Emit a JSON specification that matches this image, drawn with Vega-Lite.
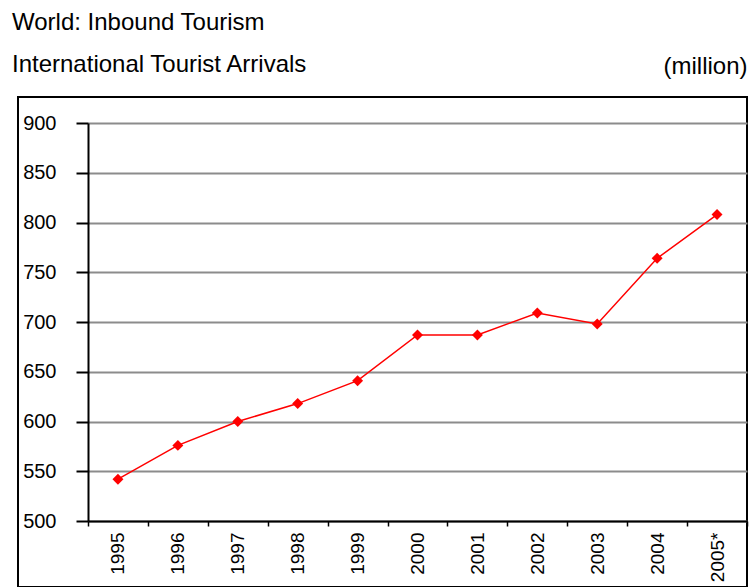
{
  "$schema": "https://vega.github.io/schema/vega-lite/v6.json",
  "width": 729,
  "height": 490,
  "autosize": {"type": "none"},
  "padding": {"left": 18, "top": 97, "right": 2, "bottom": 0},
  "background": "white",
  "title": {
    "text": "World: Inbound Tourism",
    "subtitle": "International Tourist Arrivals",
    "anchor": "start",
    "frame": "group",
    "font": "Liberation Sans",
    "fontSize": 24,
    "fontWeight": "normal",
    "color": "black",
    "subtitleFont": "Liberation Sans",
    "subtitleFontSize": 24,
    "subtitleColor": "black",
    "subtitlePadding": 18,
    "offset": -23,
    "dx": -6
  },
  "data": {
    "values": [
      {"year": "1995", "arrivals": 542},
      {"year": "1996", "arrivals": 576},
      {"year": "1997", "arrivals": 600},
      {"year": "1998", "arrivals": 618},
      {"year": "1999", "arrivals": 641},
      {"year": "2000", "arrivals": 687},
      {"year": "2001", "arrivals": 687},
      {"year": "2002", "arrivals": 709},
      {"year": "2003", "arrivals": 698},
      {"year": "2004", "arrivals": 764},
      {"year": "2005*", "arrivals": 808}
    ]
  },
  "encoding": {
    "x": {
      "field": "year",
      "type": "ordinal",
      "sort": null,
      "scale": {"type": "band", "range": [70, 729], "paddingInner": 0, "paddingOuter": 0},
      "axis": {
        "title": null,
        "orient": "bottom",
        "offset": -66,
        "domainColor": "black",
        "domainWidth": 2,
        "tickColor": "black",
        "tickSize": 5,
        "tickWidth": 1.5,
        "tickBand": "extent",
        "labelAngle": 270,
        "labelAlign": "right",
        "labelBaseline": "middle",
        "labelPadding": 6,
        "labelFont": "Liberation Sans",
        "labelFontSize": 19,
        "labelColor": "black",
        "grid": false
      }
    },
    "y": {
      "field": "arrivals",
      "type": "quantitative",
      "scale": {"domain": [500, 900], "range": [424, 26], "nice": false, "zero": false},
      "axis": {
        "values": [500, 550, 600, 650, 700, 750, 800, 850, 900],
        "offset": -70,
        "domainColor": "black",
        "domainWidth": 2,
        "tickColor": "black",
        "tickSize": 12,
        "tickWidth": 2,
        "labelPadding": 20,
        "labelFont": "Liberation Sans",
        "labelFontSize": 20,
        "labelColor": "black",
        "grid": true,
        "gridColor": "#8c8c8c",
        "gridWidth": 2,
        "title": "(million)",
        "titleAngle": 0,
        "titleAlign": "right",
        "titleBaseline": "alphabetic",
        "titleX": 659,
        "titleY": -24,
        "titleFont": "Liberation Sans",
        "titleFontSize": 24,
        "titleFontWeight": "normal",
        "titleColor": "black"
      }
    }
  },
  "layer": [
    {"mark": {"type": "line", "color": "#ff0000", "strokeWidth": 1.5}},
    {"mark": {"type": "point", "shape": "diamond", "filled": true, "color": "#ff0000", "size": 120, "opacity": 1}}
  ],
  "config": {"view": {"stroke": "black", "strokeWidth": 2}}
}
